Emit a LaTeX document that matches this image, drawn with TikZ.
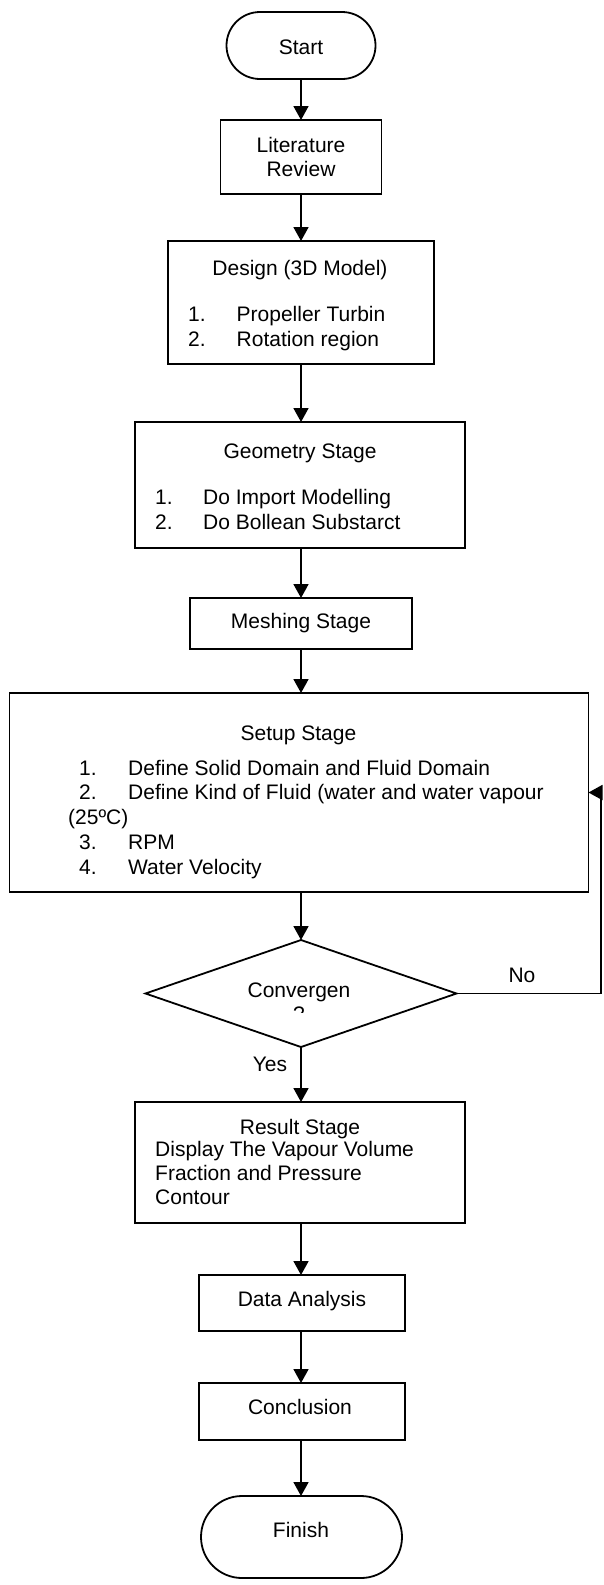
\documentclass[tikz,border=0pt]{standalone}
\usepackage{fontspec}
\setmainfont{Liberation Sans}
\usetikzlibrary{arrows.meta,shapes.geometric}
\begin{document}
\begin{tikzpicture}[x=1pt,y=-1pt,
  box/.style={draw, line width=1.8pt, inner sep=0pt, outer sep=0pt},
  term/.style={box, rounded corners=#1},
  txt/.style={inner sep=0pt, font=\fontsize{21pt}{24.5pt}\selectfont},
  arr/.style={line width=1.8pt, -{Triangle[width=15pt,length=14pt]}},
  conn/.style={line width=1.8pt}
]
\useasboundingbox (0,0) rectangle (603,1585);

% boxes
\node[term=33.5pt, minimum width=149pt, minimum height=67pt] (start) at (301,45.5) {};
\node[box, minimum width=161pt, minimum height=74pt] (lit) at (301,157) {};
\node[box, minimum width=266pt, minimum height=123pt] (design) at (301,302.5) {};
\node[box, minimum width=330pt, minimum height=126pt] (geom) at (300,485) {};
\node[box, minimum width=222pt, minimum height=51pt] (mesh) at (301,623.5) {};
\node[box, minimum width=579pt, minimum height=199pt] (setup) at (299,792.5) {};
\node[draw, line width=1.8pt, diamond, aspect=2.9, inner sep=0pt, outer sep=0pt,
      minimum width=311pt, minimum height=107pt] (dec) at (301,993.5) {};
\node[box, minimum width=330pt, minimum height=121pt] (result) at (300,1162.5) {};
\node[box, minimum width=206pt, minimum height=56pt] (data) at (302,1303) {};
\node[box, minimum width=206pt, minimum height=57pt] (concl) at (302,1411.5) {};
\node[term=41pt, minimum width=201pt, minimum height=82pt] (finish) at (301.5,1537) {};

% texts
\node[txt, anchor=base] (tstart) at (301,54) {Start};
\node[txt, anchor=base] (tlit1) at (301,152.5) {Literature};
\node[txt, anchor=base] (tlit2) at (301,176.5) {Review};

\node[txt, anchor=base] (tdes) at (300,275) {Design (3D Model)};
\node[txt, anchor=base west] (tdes1n) at (188,321) {1.};
\node[txt, anchor=base west] (tdes1) at (236.5,321) {Propeller Turbin};
\node[txt, anchor=base west] (tdes2n) at (188,346) {2.};
\node[txt, anchor=base west] (tdes2) at (236.5,346) {Rotation region};

\node[txt, anchor=base] (tgeo) at (300,458) {Geometry Stage};
\node[txt, anchor=base west] (tgeo1n) at (155,504) {1.};
\node[txt, anchor=base west] (tgeo1) at (203,504) {Do Import Modelling};
\node[txt, anchor=base west] (tgeo2n) at (155,529) {2.};
\node[txt, anchor=base west] (tgeo2) at (203,529) {Do Bollean Substarct};

\node[txt, anchor=base] (tmesh) at (301,628.7) {Meshing Stage};

\node[txt, anchor=base] (tset) at (298.5,740) {Setup Stage};
\node[txt, anchor=base west] (tset1n) at (79,775) {1.};
\node[txt, anchor=base west] (tset1) at (128,775) {Define Solid Domain and Fluid Domain};
\node[txt, anchor=base west] (tset2n) at (79,799.5) {2.};
\node[txt, anchor=base west] (tset2) at (128,799.5) {Define Kind of Fluid (water and water vapour};
\node[txt, anchor=base west] (tset2b) at (68,824) {(25ºC)};
\node[txt, anchor=base west] (tset3n) at (79,849) {3.};
\node[txt, anchor=base west] (tset3) at (128,849) {RPM};
\node[txt, anchor=base west] (tset4n) at (79,874) {4.};
\node[txt, anchor=base west] (tset4) at (128,874) {Water Velocity};

\node[txt, anchor=base] (tdec) at (299,997) {Convergen};
\begin{scope}
  \clip (250,1000) rectangle (350,1012);
  \node[txt, anchor=base] (tdec2) at (299,1021.5) {?};
\end{scope}
\node[txt, anchor=base] (tyes) at (270,1071) {Yes};
\node[txt, anchor=base] (tno) at (522,982) {No};

\node[txt, anchor=base] (tres) at (300,1134) {Result Stage};
\node[txt, anchor=base west] (tres1) at (155,1156) {Display The Vapour Volume};
\node[txt, anchor=base west] (tres2) at (155,1180) {Fraction and Pressure};
\node[txt, anchor=base west] (tres3) at (155,1204) {Contour};

\node[txt, anchor=base] (tdata) at (302,1306) {Data Analysis};
\node[txt, anchor=base] (tconcl) at (300,1414) {Conclusion};
\node[txt, anchor=base] (tfin) at (301,1537) {Finish};

% connectors
\draw[arr] (start.south) -- (start.south |- lit.north);
\draw[arr] (lit.south) -- (lit.south |- design.north);
\draw[arr] (design.south) -- (design.south |- geom.north);
\draw[arr] (geom.south -| design.south) -- (design.south |- mesh.north);
\draw[arr] (mesh.south) -- (mesh.south |- setup.north);
\draw[arr] (setup.south -| dec.north) -- (dec.north);
\draw[arr] (dec.south) -- (dec.south |- result.north);
\draw[arr] (result.south -| dec.south) -- (dec.south |- data.north);
\draw[arr] (data.south -| dec.south) -- (dec.south |- concl.north);
\draw[arr] (concl.south -| dec.south) -- (dec.south |- finish.north);
\coordinate (nr) at (601,993.5);
\draw[conn] (dec.east) -- (nr);
\draw[arr] (nr) |- (setup.east);
\end{tikzpicture}
\end{document}
